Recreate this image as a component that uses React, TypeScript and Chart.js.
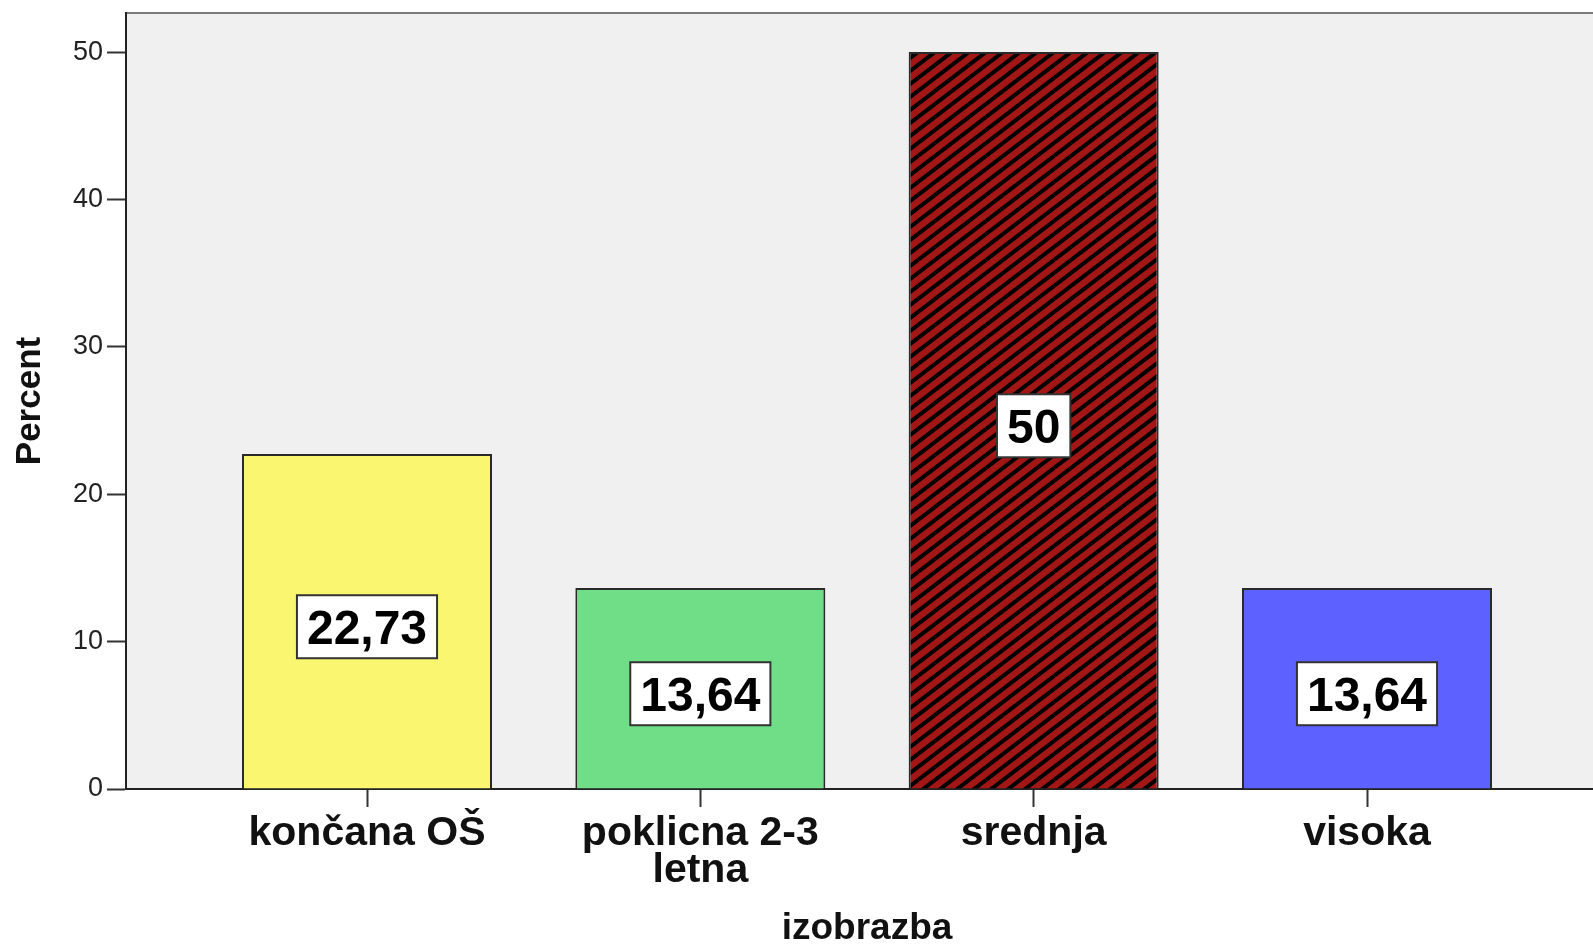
import React, { useEffect, useRef } from 'react';
import { Chart, registerables } from 'chart.js';

Chart.register(...registerables);

// ---- data ----
const categories: (string | string[])[] = ['končana OŠ', ['poklicna 2-3', 'letna'], 'srednja', 'visoka'];
const percents = [22.73, 13.64, 50, 13.64];
const valueLabels = ['22,73', '13,64', '50', '13,64'];
const barColors = ['#FAF670', '#70DD87', '#A31616', '#5C61FF'];
const hatched = [false, false, true, false];
const yTicks = [0, 10, 20, 30, 40, 50];
const xTitle = 'izobrazba';
const yTitle = 'Percent';

const FONT = '"Liberation Sans", Arial, sans-serif';

function makeHatch(base: string): CanvasPattern | string {
  const W = 17, H = 13;
  const c = document.createElement('canvas');
  c.width = W;
  c.height = H;
  const g = c.getContext('2d');
  if (!g) return base;
  g.fillStyle = base;
  g.fillRect(0, 0, W, H);
  g.strokeStyle = '#000';
  g.lineWidth = 4;
  for (let i = -1; i <= 1; i++) {
    for (let j = -1; j <= 1; j++) {
      g.beginPath();
      g.moveTo(i * W, H + j * H);
      g.lineTo(W + i * W, j * H);
      g.stroke();
    }
  }
  return g.createPattern(c, 'repeat') || base;
}

const plotBg = {
  id: 'plotBg',
  beforeDraw(chart: any) {
    const { ctx, chartArea: a } = chart;
    ctx.save();
    ctx.fillStyle = '#F0F0F0';
    ctx.fillRect(a.left, a.top, a.right - a.left, a.bottom - a.top);
    ctx.strokeStyle = '#7A7A7A';
    ctx.lineWidth = 2;
    ctx.beginPath();
    ctx.moveTo(a.left, a.top);
    ctx.lineTo(a.right, a.top);
    ctx.lineTo(a.right, a.bottom);
    ctx.stroke();
    ctx.restore();
  },
};

const valueBoxes = {
  id: 'valueBoxes',
  afterDatasetsDraw(chart: any) {
    const { ctx } = chart;
    const meta = chart.getDatasetMeta(0);
    ctx.save();
    const size = 48;
    ctx.font = `bold ${size}px ${FONT}`;
    meta.data.forEach((el: any, i: number) => {
      const text = valueLabels[i];
      const tw = ctx.measureText(text).width;
      const bw = tw + 20;
      const bh = 63;
      const cx = el.x;
      const cy = (el.y + el.base) / 2 + 5.5;
      ctx.fillStyle = '#FFFFFF';
      ctx.fillRect(cx - bw / 2, cy - bh / 2, bw, bh);
      ctx.strokeStyle = '#333';
      ctx.lineWidth = 2;
      ctx.strokeRect(cx - bw / 2, cy - bh / 2, bw, bh);
      ctx.fillStyle = '#000';
      ctx.textAlign = 'center';
      ctx.textBaseline = 'alphabetic';
      ctx.fillText(text, cx, cy + 0.358 * size);
    });
    ctx.restore();
  },
};

export default function App() {
  const ref = useRef<HTMLCanvasElement | null>(null);

  useEffect(() => {
    const canvas = ref.current;
    if (!canvas) return;
    const bg = barColors.map((c, i) => (hatched[i] ? makeHatch(c) : c));
    const chart = new Chart(canvas, {
      type: 'bar',
      data: {
        datasets: [
          {
            data: percents.map((v, i) => ({ x: i, y: v })),
            backgroundColor: bg as any,
            borderColor: '#2A2A2A',
            borderWidth: 2,
            barPercentage: 0.75,
            categoryPercentage: 1,
          },
        ],
      },
      options: {
        responsive: false,
        animation: false,
        devicePixelRatio: 1,
        layout: { padding: { top: 13, right: 0, left: 0, bottom: 0 } },
        plugins: {
          legend: { display: false },
          tooltip: { enabled: false },
        },
        scales: {
          x: {
            type: 'linear',
            min: -0.723,
            max: 3.723,
            offset: false,
            afterBuildTicks: (s: any) => {
              s.ticks = categories.map((_, i) => ({ value: i }));
            },
            afterFit: (s: any) => {
              s.height = 155;
              s.paddingLeft = 0;
              s.paddingRight = 0;
            },
            ticks: {
              callback: (_v: any, index: number) => categories[index] as any,
              font: { family: FONT, size: 41, weight: 'bold', lineHeight: 0.9 },
              color: '#111',
              padding: 8,
              maxRotation: 0,
              autoSkip: false,
            },
            grid: {
              offset: false,
              drawOnChartArea: false,
              drawTicks: true,
              tickLength: 18,
              tickColor: '#333',
              tickWidth: 2,
            },
            border: { display: true, color: '#222', width: 2 },
            title: {
              display: true,
              text: xTitle,
              font: { family: FONT, size: 37, weight: 'bold', lineHeight: 0.8 },
              color: '#111',
              padding: { top: 0, bottom: 0 },
            },
          },
          y: {
            type: 'linear',
            min: 0,
            max: 52.65,
            afterBuildTicks: (s: any) => {
              s.ticks = yTicks.map((v) => ({ value: v }));
            },
            afterFit: (s: any) => {
              s.width = 126;
              s.paddingTop = 0;
              s.paddingBottom = 0;
            },
            ticks: {
              font: { family: FONT, size: 27 },
              color: '#222',
              padding: 4,
            },
            grid: {
              drawOnChartArea: false,
              drawTicks: true,
              tickLength: 19,
              tickColor: '#333',
              tickWidth: 2,
            },
            border: { display: true, color: '#222', width: 2 },
            title: {
              display: true,
              text: yTitle,
              font: { family: FONT, size: 35, weight: 'bold', lineHeight: 1 },
              color: '#111',
              padding: { top: 13, bottom: 0 },
            },
          },
        },
      },
      plugins: [plotBg, valueBoxes],
    });
    return () => chart.destroy();
  }, []);

  return (
    <div
      style={{
        position: 'fixed',
        left: 0,
        top: 0,
        width: 1593,
        height: 944,
        overflow: 'hidden',
        background: '#fff',
      }}
    >
      <canvas ref={ref} width={1608} height={944} style={{ display: 'block' }} />
    </div>
  );
}
